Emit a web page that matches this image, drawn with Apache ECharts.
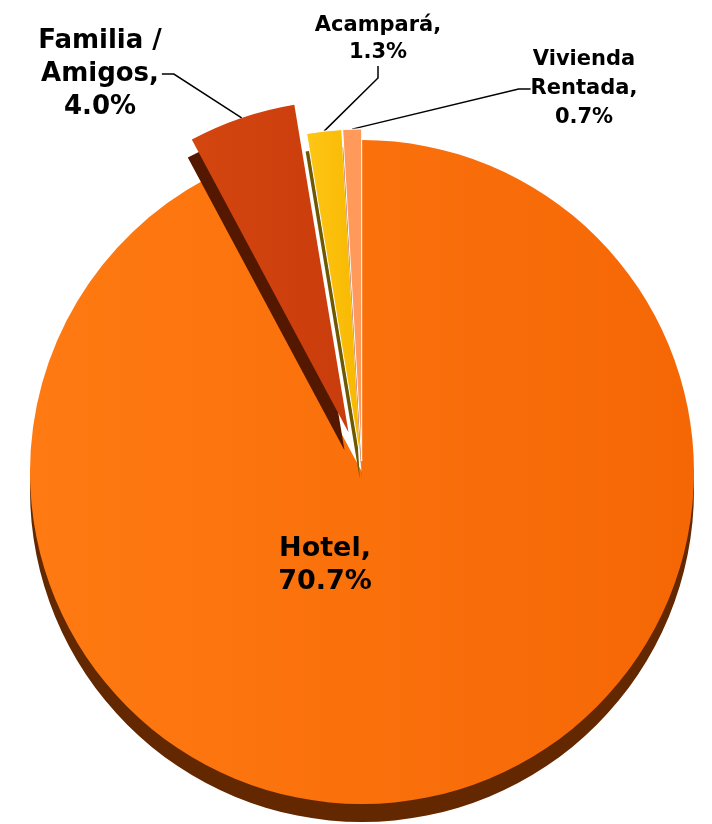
<!DOCTYPE html>
<html><head><meta charset="utf-8">
<script src="https://cdn.jsdelivr.net/npm/echarts@6/dist/echarts.min.js"></script>
<style>html,body{margin:0;padding:0;background:#fff}#c{width:712px;height:824px}</style>
</head><body><div id="c"></div>
<script>
// ---- data ----
const categories = ['Hotel', 'Familia / Amigos', 'Acampará', 'Vivienda Rentada'];
const labelNames = ['Hotel,', 'Familia /\nAmigos,', 'Acampará,', 'Vivienda\nRentada,'];
const values = [70.7, 4.0, 1.3, 0.7];

// ---- styling ----
const topColors = [
  {type:'linear',x:0,y:0,x2:1,y2:0,colorStops:[{offset:0,color:'#FF7A12'},{offset:1,color:'#F56705'}]},
  {type:'linear',x:0,y:0,x2:1,y2:0,colorStops:[{offset:0,color:'#D4460F'},{offset:1,color:'#C93C0C'}]},
  {type:'linear',x:0,y:0,x2:1,y2:0,colorStops:[{offset:0,color:'#FFC616'},{offset:1,color:'#F7B800'}]},
  '#FF9A5A'
];
const sideColors = ['#632800', '#541700', '#6E5800', '#B0582A'];
const explode = [0, 42, 11, 11];
const sideDx = [0, -4, -1, 0];
const labelPos = [[325, 565], [100, 74], [378, 39], [584, 89]];
const fontSizes = [27, 26, 21, 21];
const lineHeights = [33, 33, 27, 29];
const CX = 362, CY = 472, R = 332, DEPTH = 18;

const total = values.reduce((a, b) => a + b, 0);
// explode direction: bisector of each slice (clockwise from 12 o'clock)
function explodeShift(i) {
  let before = 0;
  for (let k = 0; k < i; k++) before += values[k];
  const mid = (before + values[i] / 2) / total * 2 * Math.PI;
  return [Math.sin(mid) * explode[i], -Math.cos(mid) * explode[i]];
}

const chart = echarts.init(document.getElementById('c'), null, {renderer: 'canvas'});

function makeSeries(i, isSide, z) {
  const shift = explodeShift(i);
  const data = values.map((v, j) => {
    if (j !== i) {
      return {value: v, name: categories[j],
        itemStyle: {color: 'rgba(0,0,0,0)', borderWidth: 0},
        label: {show: false}, labelLine: {show: false}};
    }
    const item = {value: v, name: categories[j],
      itemStyle: {color: isSide ? sideColors[j] : topColors[j], borderWidth: (!isSide && j >= 2) ? 1 : 0, borderColor: '#fff'}};
    if (isSide) {
      item.label = {show: false};
      item.labelLine = {show: false};
    } else {
      item.label = {
        show: true,
        position: j === 0 ? 'inside' : 'outside',
        formatter: labelNames[j] + '\n' + v.toFixed(1) + '%',
        fontFamily: 'DejaVu Sans',
        fontWeight: 'bold',
        fontSize: fontSizes[j],
        lineHeight: lineHeights[j],
        color: '#000',
        align: 'center'
      };
      item.labelLine = {show: j !== 0, length: 10, length2: 12, smooth: false,
        lineStyle: {color: '#000', width: 1.5}};
    }
    return item;
  });
  return {
    type: 'pie',
    z: z,
    silent: true,
    animation: false,
    startAngle: 90,
    clockwise: true,
    radius: [0, R],
    center: [CX + shift[0] + (isSide ? sideDx[i] : 0), (isSide ? CY + DEPTH : CY) + shift[1]],
    avoidLabelOverlap: false,
    emphasis: {disabled: true},
    data: data,
    labelLayout: isSide ? null : function (p) {
      if (p.dataIndex !== i) return {};
      return {x: labelPos[i][0], y: labelPos[i][1], align: 'center', verticalAlign: 'middle'};
    }
  };
}

const series = [];
for (let i = 0; i < values.length; i++) {
  series.push(makeSeries(i, true, 2 + i * 2));
  series.push(makeSeries(i, false, 3 + i * 2));
}

chart.setOption({
  animation: false,
  backgroundColor: '#fff',
  series: series
});
</script>
</body></html>
